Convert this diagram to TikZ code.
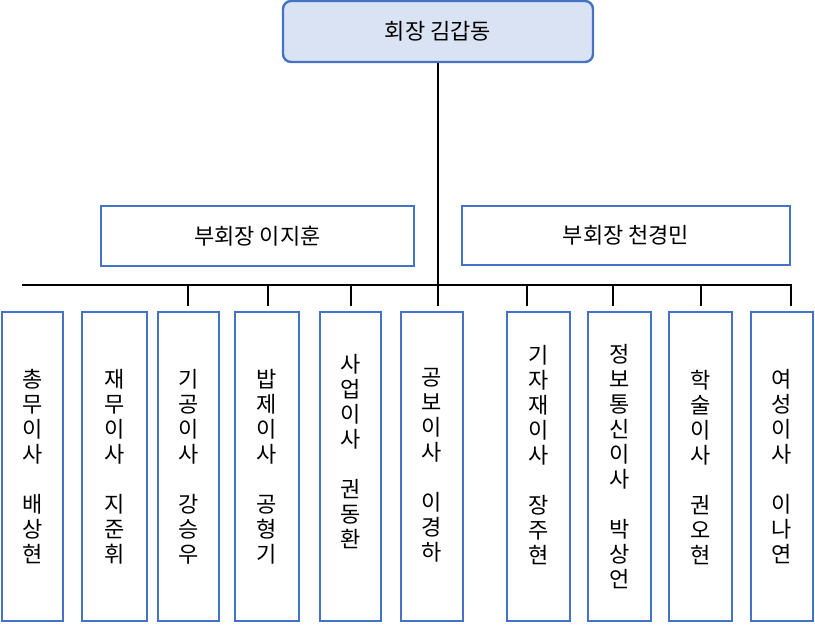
\documentclass[tikz,border=0pt]{standalone}
\usepackage{fontspec}
\setmainfont{Noto Sans CJK KR}
\begin{document}
\begin{tikzpicture}[x=1pt, y=-1pt,
    boxline/.style={line width=2.2pt, draw=black}]
    \useasboundingbox (0,0) rectangle (815,625);
    \definecolor{bluebox}{HTML}{4472C4}
    \definecolor{headfill}{HTML}{DAE3F3}
    \tikzset{every node/.style={draw=bluebox, line width=2.4pt, inner sep=0pt,
                                font=\fontsize{22}{25}\selectfont, align=center}}

    \node[fill=headfill, rounded corners=8pt, minimum width=310pt, minimum height=61pt]
        (head) at (438,31.5) {회장 김갑동};
    \node[minimum width=313pt, minimum height=60pt] (vp1) at (257.5,236) {부회장 이지훈};
    \node[minimum width=328pt, minimum height=59pt] (vp2) at (626,235.5) {부회장 천경민};

    % directors
    \foreach \name/\l/\r/\ty/\txt in {
            d1/2/63/467/{총\\무\\이\\사\\ \\배\\상\\현},
            d2/82/147/467/{재\\무\\이\\사\\ \\지\\준\\휘},
            d3/158/219/467/{기\\공\\이\\사\\ \\강\\승\\우},
            d4/235/299/467/{밥\\제\\이\\사\\ \\공\\형\\기},
            d5/320/381/452/{사\\업\\이\\사\\ \\권\\동\\환},
            d6/401/463/465/{공\\보\\이\\사\\ \\이\\경\\하},
            d7/507/570/455/{기\\자\\재\\이\\사\\ \\장\\주\\현},
            d8/588/651/467/{정\\보\\통\\신\\이\\사\\ \\박\\상\\언},
            d9/669/732/467/{학\\술\\이\\사\\ \\권\\오\\현},
            d10/751/813/467/{여\\성\\이\\사\\ \\이\\나\\연}} {
        \draw[bluebox, line width=2.4pt] (\l,312) rectangle (\r,621);
        \node[draw=none] (\name) at ({(\l+\r)/2},\ty) {\txt};
    }

    % connectors
    \coordinate (bus) at (438,285);
    \coordinate (busL) at (22,285);
    \coordinate (busR) at (792,285);
    \draw[boxline] (head.south) -- (bus);
    \draw[boxline] (busL) -- (busR);
    \foreach \x in {188,268,351,438,527,613,701,791} {
        \coordinate (t\x) at (\x,285);
        \coordinate (b\x) at (\x,306);
        \draw[boxline] (t\x) -- (b\x);
    }
\end{tikzpicture}
\end{document}
